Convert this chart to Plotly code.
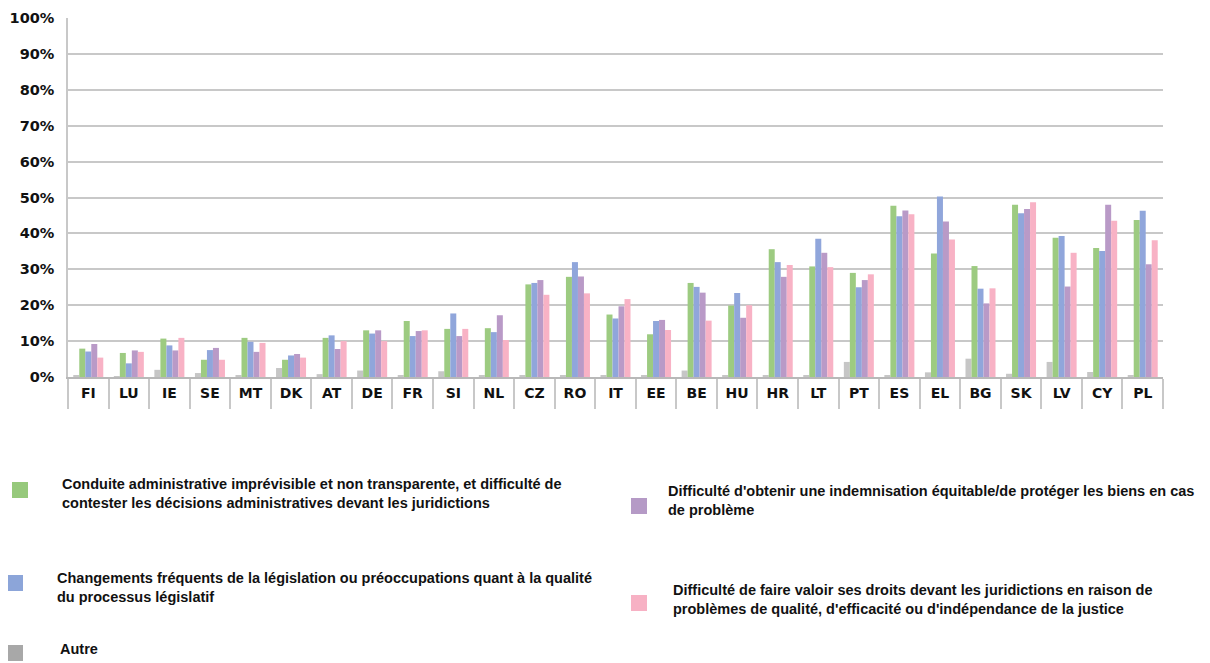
import plotly.graph_objects as go

countries = ["FI", "LU", "IE", "SE", "MT", "DK", "AT", "DE", "FR", "SI", "NL", "CZ", "RO", "IT",
             "EE", "BE", "HU", "HR", "LT", "PT", "ES", "EL", "BG", "SK", "LV", "CY", "PL"]

autre = [0.3, 0.2, 2.0, 1.1, 0.3, 2.5, 0.8, 1.8, 0.3, 1.6, 0.3, 0.3, 0.3, 0.3,
         0.3, 1.8, 0.3, 0.3, 0.3, 4.2, 0.3, 1.3, 5.1, 0.9, 4.2, 1.4, 0.3]
conduite = [7.9, 6.7, 10.7, 4.8, 10.9, 4.8, 10.9, 13.0, 15.6, 13.4, 13.6, 25.8, 27.9, 17.4,
            11.9, 26.2, 19.9, 35.6, 30.8, 29.0, 47.7, 34.4, 30.9, 48.0, 38.8, 35.9, 43.7]
changements = [7.1, 3.8, 8.8, 7.5, 9.8, 6.0, 11.6, 12.1, 11.4, 17.7, 12.5, 26.2, 32.0, 16.3,
               15.6, 25.1, 23.4, 32.0, 38.5, 25.0, 44.8, 50.3, 24.6, 45.6, 39.3, 35.1, 46.3]
indemnisation = [9.2, 7.4, 7.4, 8.1, 7.0, 6.4, 7.8, 13.0, 12.8, 11.4, 17.2, 27.0, 28.0, 19.7,
                 15.9, 23.5, 16.5, 27.9, 34.6, 27.0, 46.4, 43.3, 20.5, 46.8, 25.2, 48.0, 31.4]
droits = [5.4, 7.0, 10.9, 4.8, 9.5, 5.4, 10.0, 10.0, 13.0, 13.4, 10.3, 22.9, 23.3, 21.7,
          13.1, 15.7, 20.0, 31.2, 30.6, 28.6, 45.3, 38.3, 24.7, 48.7, 34.6, 43.5, 38.1]

y_ticks = list(range(0, 101, 10))
y_labels = [f"{v}%" for v in y_ticks]

OFF = 8  # page body margin
W, H = 1210, 663
L, R, T, B = 60, 55, 10, 294
PW, PH = W - L - R, H - T - B

series = [
    (autre, "#c6c6c6"),
    (conduite, "#9dcb81"),
    (changements, "#90a6db"),
    (indemnisation, "#b99ac7"),
    (droits, "#f8b2c5"),
]

fig = go.Figure()
for vals, col in series:
    fig.add_trace(go.Bar(x=countries, y=vals, marker=dict(color=col, line=dict(width=0)),
                         showlegend=False, hoverinfo="skip"))


def px(x):
    return (x - OFF - L) / PW


def py(y):
    return (H - B - (y - OFF)) / PH


legend_items = [
    (20, 490, "#96c97b", 60, 493,
     "Conduite administrative imprévisible et non transparente, et difficulté de<br>contester les décisions administratives devant les juridictions"),
    (15, 583, "#8ca5d9", 55, 587,
     "Changements fréquents de la législation ou préoccupations quant à la qualité<br>du processus législatif"),
    (15, 653, "#a8a8a8", 58, 649, "Autre"),
    (639, 506, "#b59ac6", 666, 500,
     "Difficulté d'obtenir une indemnisation équitable/de protéger les biens en cas<br>de problème"),
    (639, 603, "#f7b1c4", 671, 599,
     "Difficulté de faire valoir ses droits devant les juridictions en raison de<br>problèmes de qualité, d'efficacité ou d'indépendance de la justice"),
]

shapes = []
annotations = []
for sx, sy, col, tx, ty, text in legend_items:
    shapes.append(dict(type="rect", xref="paper", yref="paper",
                       x0=px(sx - 8), x1=px(sx + 8), y0=py(sy + 8), y1=py(sy - 8),
                       fillcolor=col, line=dict(width=0)))
    annotations.append(dict(xref="paper", yref="paper", x=px(tx), y=py(ty),
                            xanchor="left", yanchor="middle", align="left",
                            text=f"<b>{text}</b>", showarrow=False,
                            font=dict(family="Liberation Sans", size=14.5, color="#111111")))

fig.update_layout(
    width=W, height=H,
    margin=dict(l=L, r=R, t=T, b=B, autoexpand=False),
    paper_bgcolor="white", plot_bgcolor="white",
    barmode="group", bargap=0.26, bargroupgap=0,
    shapes=shapes, annotations=annotations,
    xaxis=dict(
        type="category", tickson="boundaries", ticks="outside", ticklen=30,
        tickcolor="#c8c8c8", tickwidth=1.5, showline=True, linecolor="#b8b8b8", linewidth=1.5,
        showgrid=False, ticklabelstandoff=2, automargin=False,
        tickfont=dict(family="DejaVu Sans", size=14, color="#111111", weight="bold"),
    ),
    yaxis=dict(
        range=[0, 100], tickvals=y_ticks, ticktext=y_labels, automargin=False,
        showgrid=True, gridcolor="#c8c8c8", gridwidth=1.5,
        showline=True, linecolor="#c8c8c8", linewidth=1.5,
        zeroline=False, ticks="outside", ticklen=9, tickcolor="rgba(0,0,0,0)",
        tickfont=dict(family="DejaVu Sans", size=14.5, color="#111111", weight="bold"),
    ),
)

fig.write_html("out.html")
